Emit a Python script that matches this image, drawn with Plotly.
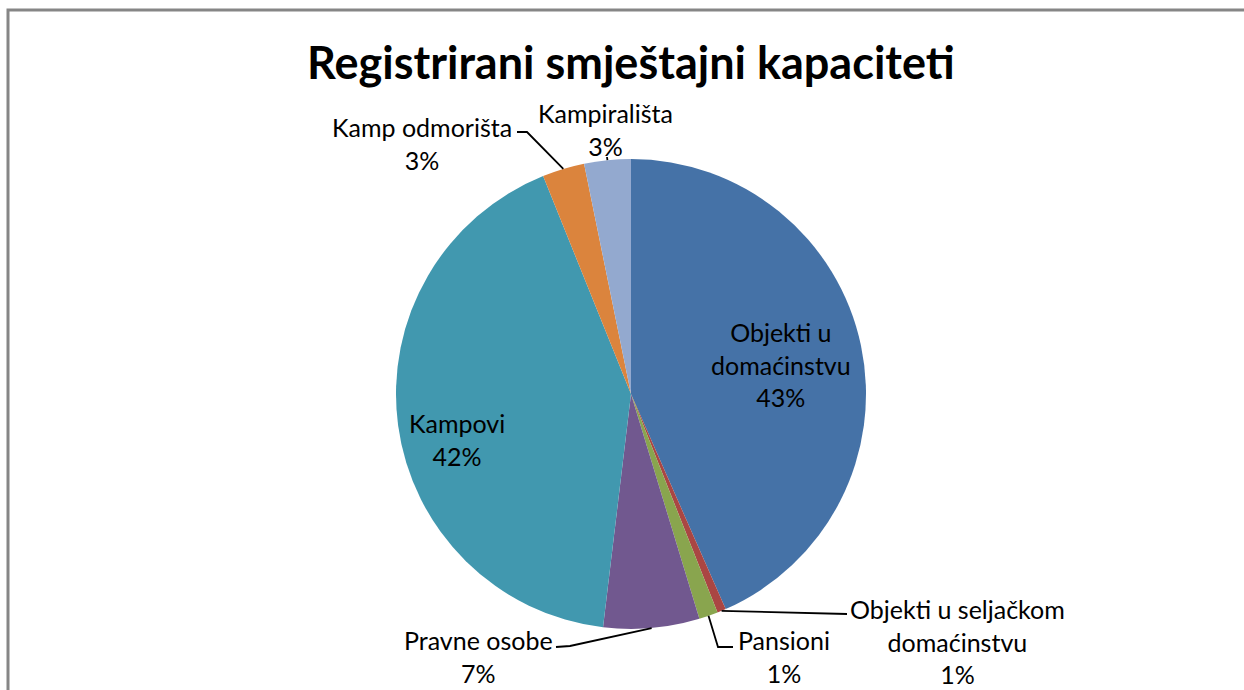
import math
import plotly.graph_objects as go

# ---- data ----
categories = ["Objekti u domaćinstvu", "Objekti u seljačkom domaćinstvu", "Pansioni",
              "Pravne osobe", "Kampovi", "Kamp odmorišta", "Kampirališta"]
label_text = ["Objekti u<br>domaćinstvu", "Objekti u seljačkom<br>domaćinstvu", "Pansioni",
              "Pravne osobe", "Kampovi", "Kamp odmorišta", "Kampirališta"]
values = [43.4, 0.6, 1.3, 6.6, 42.0, 2.9, 3.2]
colors = ["#4572A7", "#AA4643", "#89A54E", "#71588F", "#4198AF", "#DB843D", "#93A9CF"]
title_text = "Registrirani smještajni kapaciteti"

W, H = 1244, 690
CX, CY, R = 631, 394, 235  # pie centre / radius in pixels (layout)

def px(x):
    return x / W

def py(y):
    return 1 - y / H

FONT = "Lato"
LBL = 25

total = sum(values)
pct = [f"{int(v / total * 100 + 0.5)}%" for v in values]

# mid angles (clockwise from 12 o'clock) and edge anchor points
mids = []
acc = 0.0
for v in values:
    a0 = acc / total * 360
    acc += v
    a1 = acc / total * 360
    mids.append((a0 + a1) / 2)

def edge(i, rr=R):
    a = math.radians(mids[i])
    return (CX + rr * math.sin(a), CY - rr * math.cos(a))

fig = go.Figure(go.Pie(
    labels=categories, values=values, sort=False, direction="clockwise", rotation=0,
    marker=dict(colors=colors, line=dict(width=0)),
    textinfo="none", hoverinfo="label+percent", showlegend=False,
    domain=dict(x=[px(CX - R), px(CX + R)], y=[py(CY + R), py(CY - R)]),
))

# label positions (layout, pixel centres)
label_pos = {
    0: (781, 364),
    1: (957, 641),
    2: (784, 656),
    3: (478, 656),
    4: (457, 439),
    5: (422, 143),
    6: (605, 130),
}
annotations = []
for i, (x, y) in label_pos.items():
    annotations.append(dict(
        x=px(x), y=py(y), xref="paper", yref="paper", showarrow=False,
        text=f"{label_text[i]}<br>{pct[i]}", align="center",
        xanchor="center", yanchor="middle",
        font=dict(family=FONT, size=LBL, color="#000000"),
    ))
annotations.append(dict(
    x=px(631), y=py(62), xref="paper", yref="paper", showarrow=False,
    text=f"<b>{title_text}</b>", xanchor="center", yanchor="middle",
    font=dict(family=FONT, size=45, color="#000000"),
))

# leader lines: start at slice edge (data driven), bend points are layout
leaders = {
    5: [(527, 132), (517, 132)],
    6: [(607, 157)],
    1: [(847, 614)],
    2: [(718, 647), (733, 647)],
    3: [(570, 646), (556, 647)],
}
shapes = []
for i, pts in leaders.items():
    sx, sy = edge(i)
    path = f"M {px(sx)} {py(sy)}"
    for (x, y) in pts:
        path += f" L {px(x)} {py(y)}"
    shapes.append(dict(type="path", xref="paper", yref="paper", path=path,
                       line=dict(color="#000000", width=1.8)))

# chart frame (only left and top edges are visible in the crop)
shapes.append(dict(type="path", xref="paper", yref="paper",
                   path=f"M {px(8)} {py(H + 10)} L {px(8)} {py(10)} L {px(W + 10)} {py(10)}",
                   line=dict(color="#868686", width=3)))

fig.update_layout(
    width=W, height=H, margin=dict(l=0, r=0, t=0, b=0),
    paper_bgcolor="#ffffff", plot_bgcolor="#ffffff",
    annotations=annotations, shapes=shapes,
)
fig.write_html(
    "out.html",
    config={"displayModeBar": False},
    post_script=("document.body.style.margin='0';document.body.style.overflow='hidden';"
                 "document.documentElement.style.overflow='hidden';"),
)
